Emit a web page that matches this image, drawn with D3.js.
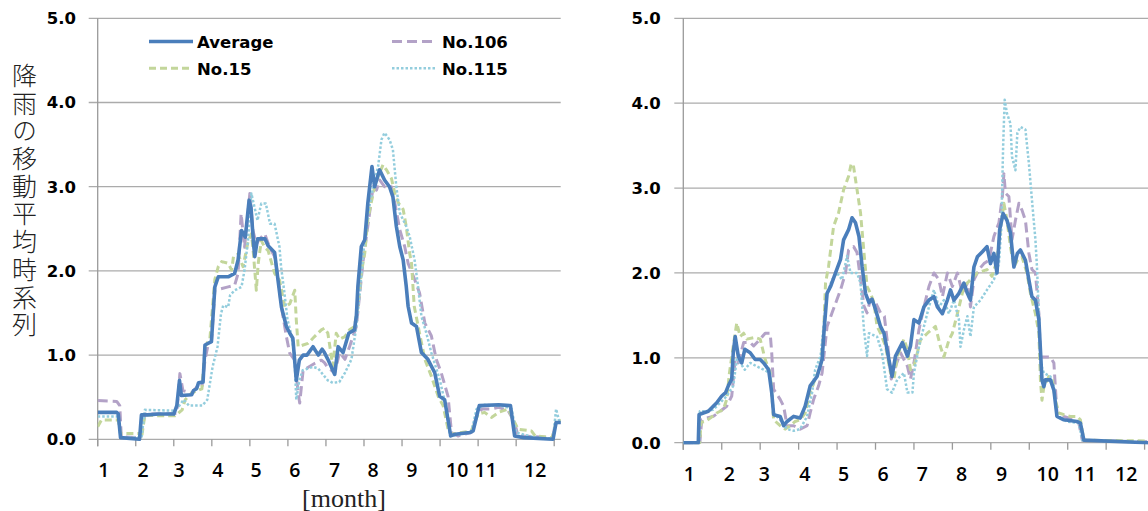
<!DOCTYPE html>
<html>
<head>
<meta charset="utf-8">
<script src="https://cdn.jsdelivr.net/npm/d3@7"></script>
<style>
  body { margin: 0; background: #fff; }
  svg { display: block; }
</style>
</head>
<body>
<svg id="main" width="1148" height="511"></svg>
<script>
// month ticks and labels
const monthTicks = d3.range(1, 14);
const monthLabels = ["1","2","3","4","5","6","7","8","9","10","11","12"];
const yTicks = [0, 1, 2, 3, 4, 5];
const yTitle = "降雨の移動平均時系列";
const xTitle = "[month]";

// series, [month, value]
const avgL = [[1.0,0.32],[1.5,0.32],[1.54,0.30],[1.6,0.02],[2.1,0.0],[2.15,0.29],[2.3,0.29],[2.6,0.30],[3.0,0.30],[3.08,0.4],[3.15,0.70],[3.2,0.52],[3.47,0.53],[3.52,0.58],[3.6,0.60],[3.65,0.67],[3.77,0.68],[3.82,1.12],[3.99,1.16],[4.08,1.81],[4.17,1.93],[4.43,1.93],[4.6,1.97],[4.69,2.13],[4.78,2.48],[4.88,2.40],[4.98,2.84],[5.03,2.75],[5.1,2.3],[5.13,2.17],[5.2,2.38],[5.4,2.38],[5.48,2.30],[5.65,2.22],[5.74,1.89],[5.83,1.57],[5.96,1.34],[6.05,1.26],[6.13,1.20],[6.22,0.70],[6.3,0.94],[6.4,1.0],[6.5,1.0],[6.66,1.10],[6.8,1.0],[6.9,1.07],[6.96,1.03],[7.05,0.95],[7.23,0.77],[7.32,1.10],[7.45,1.03],[7.6,1.26],[7.75,1.30],[7.8,1.47],[7.84,1.82],[7.93,2.29],[8.02,2.37],[8.1,2.80],[8.21,3.24],[8.28,3.0],[8.41,3.2],[8.54,3.08],[8.67,3.0],[8.76,2.88],[8.85,2.53],[8.94,2.29],[9.03,2.13],[9.11,1.82],[9.16,1.58],[9.25,1.38],[9.38,1.34],[9.51,1.03],[9.68,0.95],[9.86,0.79],[9.99,0.51],[10.12,0.47],[10.28,0.04],[10.4,0.06],[10.78,0.08],[10.87,0.10],[11.03,0.40],[11.54,0.41],[11.85,0.40],[11.96,0.04],[12.2,0.02],[12.97,0.0],[13.05,0.20],[13.2,0.20]];
const g15L = [[1.0,0.15],[1.1,0.23],[1.54,0.23],[1.6,0.07],[2.11,0.07],[2.15,0.01],[2.24,0.29],[2.6,0.28],[3.03,0.28],[3.12,0.31],[3.22,0.35],[3.3,0.47],[3.47,0.55],[3.74,0.60],[3.82,1.10],[3.95,1.20],[4.08,1.90],[4.17,2.05],[4.26,2.11],[4.43,2.09],[4.52,2.01],[4.57,2.17],[4.69,2.20],[4.82,2.05],[4.95,2.34],[5.04,2.44],[5.08,2.28],[5.17,1.77],[5.22,2.09],[5.3,2.36],[5.39,2.28],[5.48,2.24],[5.65,1.97],[5.78,1.89],[5.92,1.57],[6.05,1.61],[6.18,1.77],[6.22,1.42],[6.27,1.10],[6.4,1.12],[6.53,1.14],[6.7,1.22],[6.88,1.30],[6.96,1.32],[7.05,1.26],[7.18,0.87],[7.27,1.26],[7.36,1.19],[7.5,1.22],[7.62,1.30],[7.75,1.34],[7.84,1.58],[7.93,1.98],[8.02,2.21],[8.1,2.61],[8.19,2.81],[8.28,3.0],[8.37,3.12],[8.5,3.26],[8.59,3.2],[8.72,3.1],[8.81,2.92],[8.9,2.81],[9.03,2.73],[9.11,2.53],[9.2,2.21],[9.25,2.09],[9.32,1.58],[9.46,1.26],[9.6,0.95],[9.77,0.75],[9.95,0.51],[10.08,0.40],[10.21,0.12],[10.3,0.06],[10.82,0.10],[11.0,0.30],[11.17,0.32],[11.35,0.26],[11.54,0.32],[11.79,0.36],[11.92,0.24],[12.05,0.12],[12.4,0.10],[12.5,0.04],[12.95,0.02],[13.05,0.20],[13.2,0.23]];
const p106L = [[1.0,0.46],[1.5,0.45],[1.58,0.40],[1.62,0.03],[2.12,0.02],[2.24,0.30],[2.8,0.30],[3.08,0.31],[3.16,0.78],[3.24,0.58],[3.47,0.55],[3.6,0.62],[3.74,0.62],[3.82,0.94],[3.91,1.14],[3.99,1.16],[4.08,1.77],[4.43,1.81],[4.6,1.83],[4.69,1.97],[4.77,2.68],[4.86,2.28],[5.0,2.92],[5.08,2.48],[5.17,2.32],[5.3,2.40],[5.39,2.44],[5.52,2.28],[5.65,2.17],[5.74,1.93],[5.83,1.57],[5.96,1.22],[6.05,1.02],[6.18,0.94],[6.27,0.55],[6.31,0.43],[6.4,0.82],[6.7,0.90],[6.88,0.94],[6.96,0.91],[7.05,0.85],[7.23,0.79],[7.36,1.03],[7.5,0.95],[7.62,1.10],[7.8,1.34],[7.89,1.74],[7.98,2.13],[8.1,2.53],[8.24,3.0],[8.33,2.96],[8.41,3.08],[8.54,3.0],[8.72,3.0],[8.81,2.81],[8.94,2.49],[9.07,2.29],[9.16,2.09],[9.33,1.9],[9.46,1.74],[9.6,1.38],[9.77,1.23],[9.9,0.95],[10.03,0.79],[10.21,0.51],[10.3,0.08],[10.47,0.04],[10.82,0.08],[10.96,0.28],[11.1,0.36],[11.35,0.36],[11.54,0.38],[11.79,0.34],[11.96,0.2],[12.05,0.04],[12.95,0.02],[13.05,0.20],[13.2,0.2]];
const b115L = [[1.0,0.27],[1.54,0.27],[1.6,0.02],[2.15,0.02],[2.24,0.35],[3.0,0.34],[3.13,0.39],[3.26,0.47],[3.4,0.40],[3.75,0.40],[3.88,0.47],[4.02,0.86],[4.15,1.10],[4.24,1.49],[4.3,1.59],[4.43,1.57],[4.48,1.71],[4.6,1.77],[4.78,1.81],[4.86,2.01],[4.95,2.36],[5.04,2.92],[5.12,2.76],[5.2,2.60],[5.3,2.80],[5.42,2.80],[5.53,2.56],[5.65,2.56],[5.78,2.28],[5.82,2.05],[5.9,1.77],[5.99,1.42],[6.08,1.26],[6.17,1.02],[6.22,0.47],[6.3,0.70],[6.39,0.82],[6.66,0.86],[6.8,0.84],[6.92,0.77],[7.05,0.70],[7.18,0.67],[7.35,0.68],[7.5,0.79],[7.67,0.95],[7.8,1.34],[7.89,1.74],[7.98,2.21],[8.11,2.69],[8.24,3.0],[8.37,3.24],[8.46,3.56],[8.54,3.64],[8.67,3.56],[8.76,3.44],[8.85,3.0],[8.94,2.69],[9.11,2.53],[9.2,2.41],[9.33,2.13],[9.42,1.82],[9.51,1.46],[9.64,1.26],[9.77,1.03],[9.99,0.71],[10.17,0.36],[10.26,0.04],[10.82,0.08],[10.96,0.36],[11.17,0.41],[11.7,0.39],[11.88,0.36],[12.0,0.08],[12.5,0.02],[12.97,0.01],[13.05,0.36],[13.14,0.2],[13.2,0.2]];

const avgR = [[1.0,0.0],[1.39,0.0],[1.41,0.33],[1.52,0.35],[1.65,0.37],[1.78,0.43],[1.87,0.47],[2.0,0.55],[2.1,0.59],[2.17,0.67],[2.26,0.75],[2.3,1.06],[2.35,1.25],[2.43,1.02],[2.52,0.94],[2.6,1.10],[2.74,1.06],[2.87,0.98],[3.0,0.98],[3.09,0.94],[3.22,0.86],[3.3,0.59],[3.35,0.33],[3.52,0.31],[3.61,0.20],[3.7,0.25],[3.87,0.31],[4.04,0.29],[4.17,0.43],[4.3,0.67],[4.48,0.78],[4.61,0.98],[4.67,1.37],[4.74,1.76],[4.83,1.84],[4.96,2.0],[5.09,2.16],[5.17,2.39],[5.3,2.51],[5.39,2.65],[5.48,2.59],[5.57,2.43],[5.65,2.08],[5.74,1.76],[5.83,1.65],[5.91,1.69],[6.0,1.57],[6.13,1.37],[6.22,1.29],[6.3,1.10],[6.43,0.78],[6.52,1.02],[6.7,1.18],[6.83,1.02],[6.91,1.14],[7.0,1.45],[7.13,1.41],[7.26,1.60],[7.39,1.68],[7.52,1.72],[7.61,1.60],[7.74,1.52],[7.87,1.68],[7.95,1.80],[8.04,1.68],[8.17,1.76],[8.3,1.88],[8.39,1.76],[8.47,1.68],[8.56,2.07],[8.65,2.19],[8.78,2.25],[8.9,2.31],[8.99,2.11],[9.08,2.23],[9.16,2.0],[9.23,2.51],[9.32,2.70],[9.42,2.62],[9.51,2.47],[9.6,2.07],[9.69,2.23],[9.77,2.27],[9.9,2.15],[9.99,1.92],[10.07,1.72],[10.16,1.68],[10.25,1.45],[10.33,0.74],[10.38,0.66],[10.42,0.74],[10.55,0.74],[10.64,0.62],[10.72,0.31],[10.9,0.27],[11.24,0.25],[11.33,0.23],[11.42,0.03],[13.1,0.0]];
const g15R = [[1.0,0.0],[1.43,0.0],[1.46,0.24],[1.57,0.25],[1.7,0.29],[1.87,0.35],[2.04,0.39],[2.13,0.51],[2.2,0.82],[2.3,1.14],[2.39,1.41],[2.48,1.25],[2.57,1.29],[2.65,1.22],[2.87,1.24],[3.0,1.22],[3.13,0.98],[3.26,0.82],[3.35,0.27],[3.52,0.20],[3.65,0.16],[3.78,0.20],[3.91,0.25],[4.04,0.27],[4.17,0.35],[4.3,0.59],[4.43,0.75],[4.57,0.90],[4.65,1.29],[4.7,1.88],[4.78,2.08],[4.91,2.55],[5.04,2.71],[5.17,2.98],[5.3,3.14],[5.37,3.29],[5.43,3.25],[5.52,2.98],[5.61,2.71],[5.7,2.24],[5.78,1.84],[5.87,1.76],[5.96,1.65],[6.04,1.37],[6.13,1.29],[6.26,1.14],[6.39,0.82],[6.48,0.75],[6.57,1.02],[6.74,1.22],[6.83,1.1],[6.91,0.86],[7.0,0.9],[7.17,1.21],[7.35,1.29],[7.56,1.37],[7.69,1.13],[7.78,1.01],[7.91,1.21],[8.0,1.29],[8.13,1.52],[8.3,1.84],[8.47,1.92],[8.65,2.0],[8.9,2.04],[9.03,1.96],[9.16,2.15],[9.25,2.51],[9.34,2.82],[9.42,2.62],[9.51,2.31],[9.6,2.07],[9.69,2.15],[9.81,2.19],[9.94,2.0],[10.03,1.76],[10.16,1.52],[10.25,1.29],[10.29,0.74],[10.33,0.5],[10.38,0.66],[10.51,0.78],[10.6,0.74],[10.68,0.5],[10.77,0.35],[10.9,0.33],[11.07,0.31],[11.24,0.31],[11.33,0.27],[11.42,0.03],[13.1,0.02]];
const p106R = [[1.0,0.0],[1.43,0.0],[1.48,0.27],[1.61,0.29],[1.78,0.31],[1.96,0.37],[2.13,0.43],[2.26,0.55],[2.35,0.98],[2.43,0.94],[2.57,1.18],[2.74,1.18],[2.83,1.14],[3.0,1.22],[3.13,1.29],[3.26,1.29],[3.3,1.06],[3.35,0.63],[3.52,0.51],[3.61,0.43],[3.7,0.20],[3.87,0.20],[4.04,0.16],[4.22,0.20],[4.3,0.35],[4.39,0.51],[4.52,0.67],[4.61,0.82],[4.74,1.37],[4.87,1.53],[5.0,1.69],[5.09,1.80],[5.22,2.0],[5.3,2.27],[5.43,2.31],[5.52,2.24],[5.61,1.92],[5.7,1.61],[5.78,1.53],[5.87,1.69],[6.0,1.65],[6.13,1.53],[6.23,1.49],[6.32,1.14],[6.41,0.75],[6.52,0.9],[6.65,1.06],[6.83,0.9],[6.91,0.75],[7.0,0.94],[7.13,1.33],[7.26,1.6],[7.39,1.84],[7.52,2.0],[7.65,1.92],[7.74,1.72],[7.87,2.0],[8.0,1.84],[8.13,2.0],[8.26,1.76],[8.39,1.88],[8.47,1.6],[8.56,1.92],[8.69,2.04],[8.82,2.11],[8.95,2.15],[9.08,2.43],[9.21,2.59],[9.3,2.9],[9.34,3.17],[9.38,2.94],[9.47,2.9],[9.55,2.39],[9.64,2.62],[9.73,2.82],[9.81,2.74],[9.9,2.62],[9.99,2.23],[10.07,2.04],[10.16,2.0],[10.25,1.52],[10.29,1.01],[10.55,1.01],[10.64,0.94],[10.72,0.35],[10.9,0.31],[11.16,0.27],[11.29,0.23],[11.38,0.03],[13.1,0.01]];
const b115R = [[1.0,0.0],[1.41,0.0],[1.43,0.37],[1.61,0.37],[1.78,0.39],[1.96,0.47],[2.13,0.55],[2.3,0.67],[2.39,0.98],[2.48,0.94],[2.6,0.86],[2.74,0.94],[2.91,0.90],[3.09,0.86],[3.26,0.82],[3.35,0.35],[3.52,0.27],[3.7,0.16],[3.87,0.14],[4.04,0.16],[4.22,0.31],[4.35,0.59],[4.43,0.86],[4.57,1.02],[4.65,1.37],[4.74,1.76],[4.87,1.92],[5.0,2.0],[5.13,1.92],[5.26,2.2],[5.35,2.0],[5.52,2.0],[5.61,1.88],[5.7,1.33],[5.78,1.02],[5.83,1.29],[6.04,1.25],[6.17,1.06],[6.3,0.63],[6.43,0.59],[6.57,0.75],[6.74,0.82],[6.83,0.59],[6.96,0.59],[7.0,0.82],[7.13,1.13],[7.26,1.37],[7.39,1.6],[7.52,1.8],[7.65,1.6],[7.78,1.68],[7.91,1.52],[8.04,1.68],[8.17,1.45],[8.21,1.13],[8.3,1.33],[8.39,1.49],[8.47,1.25],[8.56,1.6],[8.73,1.68],[8.9,1.8],[9.08,1.92],[9.21,2.11],[9.27,2.51],[9.32,3.49],[9.36,4.04],[9.42,3.88],[9.51,3.76],[9.55,3.37],[9.64,3.21],[9.69,3.65],[9.77,3.72],[9.9,3.69],[9.99,3.29],[10.07,2.86],[10.16,2.39],[10.2,2.07],[10.25,1.52],[10.29,0.94],[10.38,0.82],[10.55,0.78],[10.64,0.66],[10.72,0.31],[10.98,0.25],[11.29,0.23],[11.38,0.03],[13.1,0.0]];

// where the month labels sit (in month units), as in the original
const labelPosL = [1.16,2.19,3.14,4.16,5.16,6.18,7.23,8.24,9.26,10.45,11.2,12.5];
const labelPosR = [1.16,2.2,3.11,4.16,5.17,6.2,7.22,8.24,9.28,10.48,11.45,12.52];

const seriesStyle = {
    "Average": {color: "#4a7ebb", width: 3.6, dash: null},
    "No.106":  {color: "#b3a2c7", width: 3, dash: "10,5"},
    "No.15":   {color: "#c3d69b", width: 3, dash: "7,4"},
    "No.115":  {color: "#93cddd", width: 2.5, dash: "2.5,2"}
};

let svg = d3.select('svg#main');

function plotPanel(id, cfg, data, labelPos) {
    const x = d3.scaleLinear().domain([1, 13]).range([cfg.x0, cfg.x1]);
    const y = d3.scaleLinear().domain([0, 5]).range([cfg.y0, cfg.y1]);
    const g = svg.append("g").attr("class", id);

    // grid + y tick stubs
    g.selectAll("line.grid").data(yTicks).enter().append("line")
        .attr("class", "grid")
        .attr("x1", cfg.x0 - 9).attr("x2", cfg.xEnd)
        .attr("y1", d => y(d)).attr("y2", d => y(d))
        .style("stroke", "#ababab").style("stroke-width", "1.3px");

    // y axis line
    g.append("line")
        .attr("x1", cfg.x0).attr("x2", cfg.x0)
        .attr("y1", y(5)).attr("y2", y(0) + 7)
        .style("stroke", "#9a9a9a").style("stroke-width", "1.3px");

    // month ticks
    g.selectAll("line.xt").data(monthTicks).enter().append("line")
        .attr("class", "xt")
        .attr("x1", d => x(d)).attr("x2", d => x(d))
        .attr("y1", y(0)).attr("y2", y(0) + 7)
        .style("stroke", "#9a9a9a").style("stroke-width", "1.3px");

    g.selectAll("text.yl").data(yTicks).enter().append("text")
        .attr("class", "yl")
        .attr("x", cfg.yLabelX).attr("y", d => y(d))
        .attr("dy", "0.36em")
        .attr("text-anchor", "end")
        .style("font-family", "'DejaVu Sans', Verdana, sans-serif")
        .style("font-weight", "bold").style("font-size", "16.5px")
        .text(d => d3.format(".1f")(d));

    g.selectAll("text.xl").data(monthLabels).enter().append("text")
        .attr("class", "xl")
        .attr("x", (d, i) => x(labelPos[i])).attr("y", cfg.xLabelY)
        .attr("text-anchor", "middle")
        .style("font-family", "'Open Sans', sans-serif")
        .style("font-weight", "600").style("font-size", "19.5px")
        .text(d => d);

    g.append("clipPath").attr("id", "clip-" + id)
        .append("rect")
        .attr("x", cfg.x0).attr("y", 0)
        .attr("width", cfg.xEnd - cfg.x0).attr("height", y(0) + 2);

    let line = d3.line().x(d => x(d[0])).y(d => y(d[1]));

    const lines = g.append("g").attr("clip-path", `url(#clip-${id})`);
    data.forEach(s => {
        const st = seriesStyle[s.name];
        lines.append("path")
            .datum(s.values)
            .attr("d", line)
            .attr("fill", "none")
            .style("stroke", st.color)
            .style("stroke-width", st.width + "px")
            .style("stroke-dasharray", st.dash)
            .style("stroke-linejoin", "round");
    });
}

plotPanel("left",
    {x0: 97.7, x1: 554.2, xEnd: 560.7, y0: 439.3, y1: 18.3, yLabelX: 76, xLabelY: 477},
    [{name: "No.106", values: p106L}, {name: "No.15", values: g15L},
     {name: "No.115", values: b115L}, {name: "Average", values: avgL}],
    labelPosL);

plotPanel("right",
    {x0: 683.3, x1: 1144.6, xEnd: 1148, y0: 442.7, y1: 18.3, yLabelX: 660.7, xLabelY: 481},
    [{name: "No.106", values: p106R}, {name: "No.15", values: g15R},
     {name: "No.115", values: b115R}, {name: "Average", values: avgR}],
    labelPosR);

// legend (left panel only)
const legend = svg.append("g").attr("class", "legend")
    .selectAll("g")
    .data([{name: "Average", x: 149, y: 41.5},
           {name: "No.106", x: 392, y: 41.5},
           {name: "No.15", x: 149, y: 68.3},
           {name: "No.115", x: 392, y: 68.3}])
    .enter().append("g")
    .attr("transform", d => `translate(${d.x},${d.y})`);

legend.append("line")
    .attr("x1", 0).attr("x2", 44).attr("y1", 0).attr("y2", 0)
    .style("stroke", d => seriesStyle[d.name].color)
    .style("stroke-width", d => seriesStyle[d.name].width + "px")
    .style("stroke-dasharray", d => seriesStyle[d.name].dash);

legend.append("text")
    .text(d => d.name)
    .attr("x", d => d.name === "Average" || d.name === "No.15" ? 48 : 50)
    .attr("y", 6.5)
    .style("font-family", "'DejaVu Sans', Verdana, sans-serif")
    .style("font-weight", "bold").style("font-size", "16.5px");

// vertical Japanese y title, one text run top to bottom
svg.append("text")
    .attr("class", "ytitle")
    .attr("x", 24.5)
    .attr("y", 63)
    .style("writing-mode", "vertical-rl")
    .style("text-orientation", "upright")
    .style("letter-spacing", "2.7px")
    .style("font-family", "'Noto Sans CJK JP', sans-serif")
    .style("font-weight", "300")
    .style("font-size", "25px")
    .style("fill", "#222")
    .text(yTitle);

svg.append("text")
    .attr("x", 344).attr("y", 506.5)
    .attr("text-anchor", "middle")
    .style("font-family", "'Liberation Serif', 'Times New Roman', serif")
    .style("font-size", "26px")
    .style("fill", "#222")
    .text(xTitle);
</script>
</body>
</html>
